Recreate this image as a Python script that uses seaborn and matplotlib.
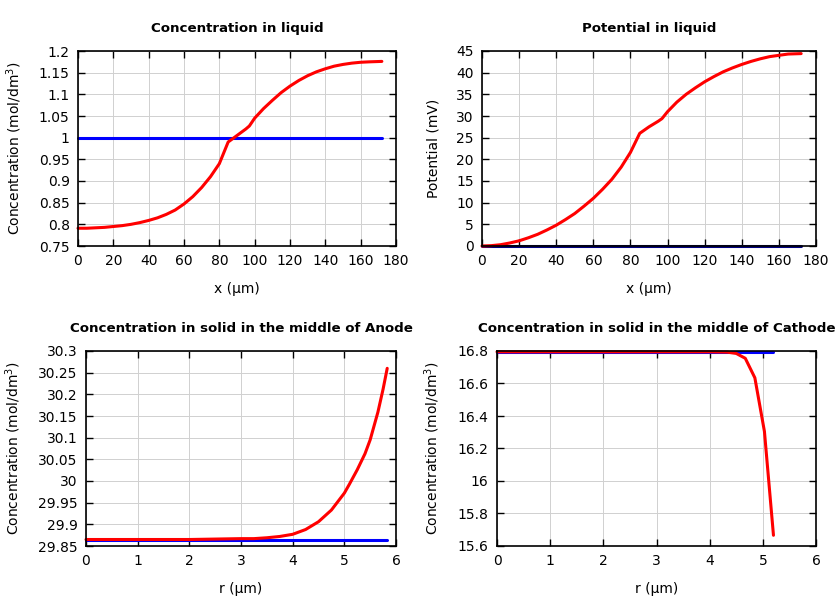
import matplotlib
matplotlib.use('Agg')
import matplotlib.pyplot as plt
import seaborn as sns
import pandas as pd

# concentration in liquid (red = current, blue = initial)
x_liq = [0, 5, 10, 15, 20, 25, 30, 35, 40, 45, 50, 55, 60, 65, 70, 75, 80, 85,
         90, 95, 97, 100, 105, 110, 115, 120, 125, 130, 135, 140, 145, 150, 155, 160, 165, 172]
c_liq = [0.791, 0.791, 0.792, 0.793, 0.795, 0.797, 0.800, 0.804, 0.809, 0.815, 0.823, 0.833,
         0.847, 0.864, 0.885, 0.910, 0.940, 0.990, 1.005, 1.020, 1.027, 1.045, 1.067, 1.086,
         1.104, 1.119, 1.132, 1.143, 1.152, 1.159, 1.165, 1.169, 1.172, 1.174, 1.175, 1.176]
c_liq0 = [1.0] * len(x_liq)

# potential in liquid
phi_liq = [0.0, 0.08, 0.3, 0.7, 1.2, 1.9, 2.7, 3.7, 4.8, 6.1, 7.5, 9.2, 11.0, 13.1, 15.4,
           18.2, 21.6, 26.0, 27.5, 28.8, 29.4, 31.0, 33.2, 35.0, 36.5, 37.9, 39.1, 40.2,
           41.1, 41.9, 42.6, 43.2, 43.7, 44.0, 44.3, 44.4]
phi_liq0 = [0.0] * len(x_liq)

# anode particle
r_an = [0, 0.5, 1, 1.5, 2, 2.5, 3, 3.25, 3.5, 3.75, 4, 4.25, 4.5, 4.75, 5, 5.1, 5.25,
        5.4, 5.5, 5.65, 5.75, 5.83]
c_an = [29.865, 29.865, 29.865, 29.865, 29.865, 29.866, 29.867, 29.867, 29.869, 29.872,
        29.877, 29.888, 29.906, 29.933, 29.972, 29.993, 30.026, 30.063, 30.095, 30.159,
        30.212, 30.260]
c_an0 = [29.865] * len(r_an)

# cathode particle
r_ca = [0, 1, 2, 3, 4, 4.33, 4.5, 4.67, 4.85, 5.03, 5.2]
c_ca = [16.795, 16.795, 16.795, 16.795, 16.795, 16.793, 16.785, 16.755, 16.635, 16.305, 15.666]
c_ca0 = [16.795] * len(r_ca)

sns.set_style('ticks')
plt.rcParams['font.family'] = ['DejaVu Sans']
plt.rcParams['text.color'] = 'black'
plt.rcParams['axes.labelcolor'] = 'black'

fig = plt.figure(figsize=(8.4, 6), dpi=100)
positions = [
    [78/840, 1 - 246/600, 318/840, 195/600],
    [482/840, 1 - 246/600, 334/840, 195/600],
    [86/840, 1 - 546/600, 310/840, 195/600],
    [497/840, 1 - 546/600, 319/840, 195/600],
]

panels = [
    (x_liq, c_liq, c_liq0, 'Concentration in liquid', 'x (µm)', 'Concentration (mol/dm$^3$)',
     (0, 180, 20), (0.75, 1.2, 0.05), 'blue'),
    (x_liq, phi_liq, phi_liq0, 'Potential in liquid', 'x (µm)', 'Potential (mV)',
     (0, 180, 20), (0, 45, 5), '#000080'),
    (r_an, c_an, c_an0, 'Concentration in solid in the middle of Anode', 'r (µm)',
     'Concentration (mol/dm$^3$)', (0, 6, 1), (29.85, 30.3, 0.05), 'blue'),
    (r_ca, c_ca, c_ca0, 'Concentration in solid in the middle of Cathode', 'r (µm)',
     'Concentration (mol/dm$^3$)', (0, 6, 1), (15.6, 16.8, 0.2), 'blue'),
]

for pos, (xs, ys, ys0, title, xl, yl, xt, yt, c0) in zip(positions, panels):
    ax = fig.add_axes(pos)
    df = pd.DataFrame({'x': xs, 'y': ys, 'y0': ys0})
    sns.lineplot(data=df, x='x', y='y0', ax=ax, color=c0, lw=2.2, clip_on=False, zorder=3)
    sns.lineplot(data=df, x='x', y='y', ax=ax, color='red', lw=2.2, clip_on=False, zorder=4)
    ax.set_xlim(xt[0], xt[1])
    ax.set_ylim(yt[0], yt[1])
    n = int(round((xt[1] - xt[0]) / xt[2]))
    ax.set_xticks([xt[0] + i * xt[2] for i in range(n + 1)])
    m = int(round((yt[1] - yt[0]) / yt[2]))
    yticks = [round(yt[0] + i * yt[2], 3) for i in range(m + 1)]
    ax.set_yticks(yticks)
    ax.set_yticklabels([('%g' % v) for v in yticks])
    ax.grid(True, color='#d0d0d0', lw=0.7)
    ax.set_axisbelow(True)
    ax.tick_params(direction='in', top=True, right=True, length=5, width=1,
                   labelsize=10, colors='black', pad=6)
    for s in ax.spines.values():
        s.set_visible(True)
        s.set_linewidth(1.2)
        s.set_color('black')
        s.set_zorder(5)
    ax.set_title(title, fontsize=9.6, fontweight='bold', pad=14, color='black')
    ax.set_xlabel(xl, fontsize=10, labelpad=10)
    ax.set_ylabel(yl, fontsize=10, labelpad=11)

fig.savefig('out.png', dpi=100)
